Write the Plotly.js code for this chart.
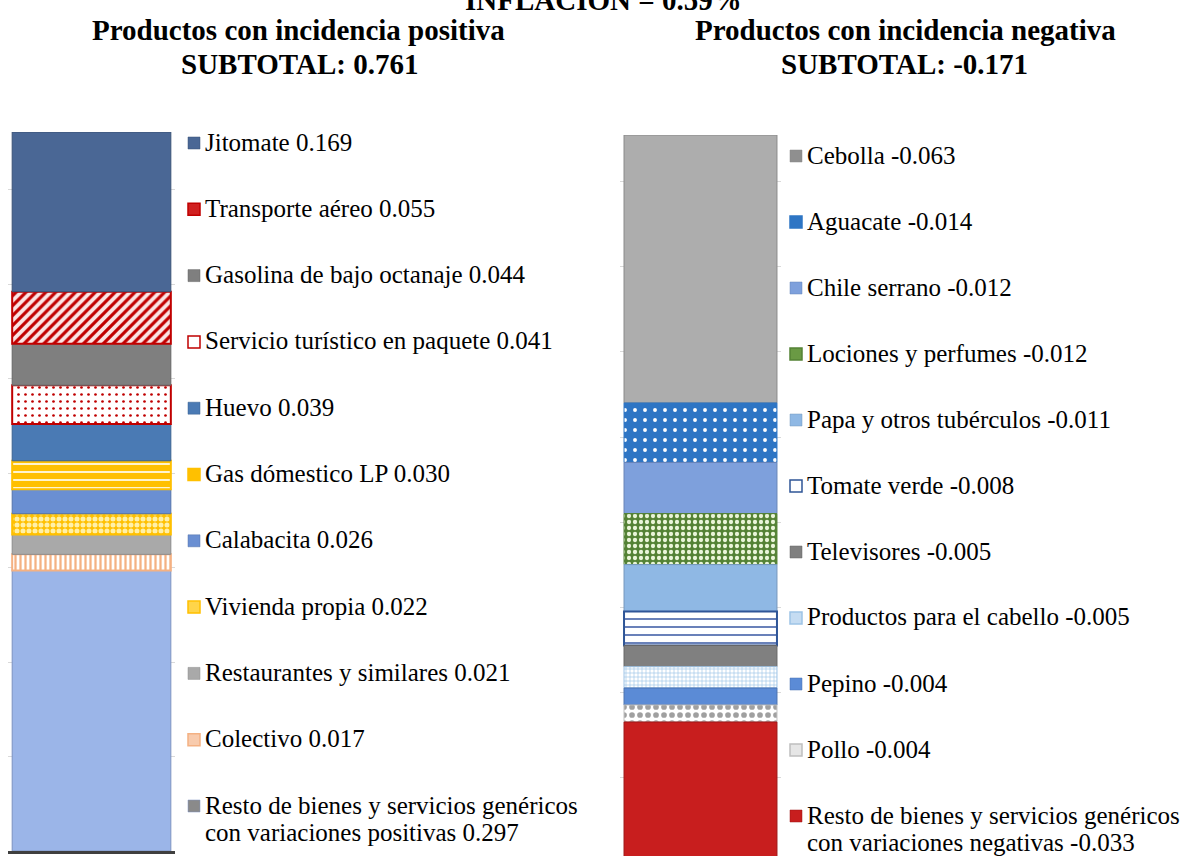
<!DOCTYPE html>
<html>
<head>
<meta charset="utf-8">
<script src="https://cdn.plot.ly/plotly-3.0.1.min.js"></script>
<style>
  html, body { margin: 0; padding: 0; background: #fff; }
  #chart { width: 1184px; height: 856px; }
</style>
</head>
<body>
<div id="chart"></div>
<script>
// incidencia positiva (de arriba hacia abajo en la barra)
const posNames = [
  'Jitomate', 'Transporte aéreo', 'Gasolina de bajo octanaje', 'Servicio turístico en paquete',
  'Huevo', 'Gas dómestico LP', 'Calabacita', 'Vivienda propia', 'Restaurantes y similares',
  'Colectivo', 'Resto de bienes y servicios genéricos<br>con variaciones positivas'
];
const posValues = [0.169, 0.055, 0.044, 0.041, 0.039, 0.030, 0.026, 0.022, 0.021, 0.017, 0.297];

// incidencia negativa (de arriba hacia abajo en la barra)
const negNames = [
  'Cebolla', 'Aguacate', 'Chile serrano', 'Lociones y perfumes', 'Papa y otros tubérculos',
  'Tomate verde', 'Televisores', 'Productos para el cabello', 'Pepino', 'Pollo',
  'Resto de bienes y servicios genéricos<br>con variaciones negativas'
];
const negValues = [-0.063, -0.014, -0.012, -0.012, -0.011, -0.008, -0.005, -0.005, -0.004, -0.004, -0.033];

const inflation = '0.59%';

// fill styles, same order as the names (sw = colour of the small key square)
const posStyles = [
  { color: '#4a6795', line: '#3a5276' },
  { color: '#ffffff', line: '#c00000', lw: 2, sw: '#d02020', pattern: { shape: '/', fgcolor: '#c00000', bgcolor: '#fbe5e5', size: 7, solidity: 0.45 } },
  { color: '#7f7f7f', line: '#666666' },
  { color: '#ffffff', line: '#c00000', lw: 2, sw: '#ffffff', pattern: { shape: '.', fgcolor: '#c00000', bgcolor: '#ffffff', size: 7, solidity: 0.12 } },
  { color: '#4a7ab4', line: '#3b6290' },
  { color: '#ffc000', line: '#ffc000', lw: 2, sw: '#ffc000', pattern: { shape: '-', fgcolor: '#fff4cc', bgcolor: '#ffc000', size: 8, solidity: 0.25 } },
  { color: '#6a8fd2', line: '#5473aa' },
  { color: '#ffc000', line: '#ffc000', lw: 2, sw: '#ffd54a', pattern: { shape: '.', fgcolor: '#fff0a8', bgcolor: '#ffc000', size: 6, solidity: 0.55 } },
  { color: '#a9a9a9', line: '#8c8c8c' },
  { color: '#ffffff', line: '#f4b183', lw: 2, sw: '#f8cbad', pattern: { shape: '|', fgcolor: '#f4b183', bgcolor: '#ffffff', size: 5, solidity: 0.45 } },
  { color: '#9bb5e8', line: '#7c92c0', sw: '#8a8a8a' }
];
const negStyles = [
  { color: '#adadad', line: '#8a8a8a', sw: '#8f8f8f' },
  { color: '#2e75c4', line: '#2e75c4', lw: 1, sw: '#2e75c4', pattern: { shape: '.', fgcolor: '#ffffff', bgcolor: '#2e75c4', size: 10, solidity: 0.12 } },
  { color: '#7ea0dc', line: '#6784b8' },
  { color: '#548235', line: '#548235', lw: 1, sw: '#6a9a44', pattern: { shape: '.', fgcolor: '#eaf5d9', bgcolor: '#548235', size: 6, solidity: 0.4 } },
  { color: '#8fb8e4', line: '#7598bd' },
  { color: '#ffffff', line: '#2f5597', lw: 2, sw: '#ffffff', pattern: { shape: '-', fgcolor: '#5470b0', bgcolor: '#ffffff', size: 8, solidity: 0.22 } },
  { color: '#808080', line: '#666666' },
  { color: '#ffffff', line: '#9dc3e6', lw: 1, sw: '#c5dcf2', pattern: { shape: '+', fgcolor: '#9dc3e6', bgcolor: '#ffffff', size: 4, solidity: 0.3 } },
  { color: '#5b8bd6', line: '#4a72b0' },
  { color: '#ffffff', line: '#bfbfbf', lw: 1, sw: '#e6e6e6', pattern: { shape: '.', fgcolor: '#a0a0a0', bgcolor: '#ffffff', size: 8, solidity: 0.4 } },
  { color: '#c81e1e', line: '#9e1717' }
];

const W = 1184;
const H = 856;
const FONT = 'Liberation Serif, Times New Roman, serif';
const sum = (arr) => arr.reduce((a, b) => a + b, 0);
const posTotal = sum(posValues);
const negTotal = sum(negValues);

function makeTrace (name, value, style, axis) {
  const marker = {
    color: style.color,
    line: { color: style.line, width: style.lw || 1 }
  };
  if (style.pattern) marker.pattern = Object.assign({ fillmode: 'replace' }, style.pattern);
  return {
    type: 'bar',
    x: ['a'],
    y: [value],
    name: name.replace('<br>', ' ') + ' ' + value.toFixed(3),
    width: 0.95,
    marker: marker,
    xaxis: 'x' + axis,
    yaxis: 'y' + axis,
    hoverinfo: 'name',
    showlegend: false
  };
}

const traces = [];
// positive stack grows from 0 upward, so the bottom item goes in first
for (let i = posNames.length - 1; i >= 0; i--) {
  traces.push(makeTrace(posNames[i], posValues[i], posStyles[i], ''));
}
// negative stack grows from 0 downward, first item sits on top
negNames.forEach((n, i) => {
  traces.push(makeTrace(n, negValues[i], negStyles[i], '2'));
});

// gridlines every 0.02 counted from the bottom of the negative bar
const negGrid = [];
for (let v = negTotal + 0.02; v < 0; v += 0.02) negGrid.push(v);

// key next to each bar: evenly spaced labels with a small square
const annotations = [];
const shapes = [];
const keyFont = { family: FONT, size: 25, color: '#000' };
function addKey (names, values, styles, swX, textX, top, step) {
  names.forEach((n, i) => {
    const yc = top + step * i;
    const lines = n.split('<br>');
    lines[lines.length - 1] += ' ' + values[i].toFixed(3);
    lines.forEach((line, k) => {
      annotations.push({
        text: line,
        xref: 'paper', yref: 'paper',
        x: textX / W, y: (H - yc - 27 * k) / H,
        xanchor: 'left', yanchor: 'middle',
        showarrow: false, font: keyFont
      });
    });
    const s = styles[i];
    shapes.push({
      type: 'rect', xref: 'paper', yref: 'paper',
      x0: swX / W, x1: (swX + 12) / W,
      y0: (H - yc + 5) / H, y1: (H - yc - 7) / H,
      fillcolor: s.sw || s.color,
      line: { color: s.line, width: s.pattern ? 1.5 : 0.5 }
    });
  });
}
addKey(posNames, posValues, posStyles, 188, 203, 142, 66.3);
addKey(negNames, negValues, negStyles, 790, 805, 155, 66);

const titleFont = { family: FONT, size: 29, color: '#000' };
[
  ['<b>INFLACIÓN = ' + inflation + '</b>', 603, 0],
  ['<b>Productos con incidencia positiva</b>', 298, 30],
  ['<b>SUBTOTAL: ' + posTotal.toFixed(3) + '</b>', 299, 64],
  ['<b>Productos con incidencia negativa</b>', 905, 30],
  ['<b>SUBTOTAL: ' + negTotal.toFixed(3) + '</b>', 904, 64]
].forEach(([text, x, y]) => {
  annotations.push({
    text: text, xref: 'paper', yref: 'paper', x: x / W, y: (H - y) / H,
    xanchor: 'center', yanchor: 'middle', showarrow: false, font: titleFont
  });
});

const layout = {
  width: W,
  height: H,
  margin: { l: 0, r: 0, t: 0, b: 0 },
  paper_bgcolor: '#ffffff',
  plot_bgcolor: 'rgba(0,0,0,0)',
  barmode: 'relative',
  showlegend: false,
  font: { family: FONT, size: 25, color: '#000' },
  xaxis: {
    domain: [8 / W, 175 / W],
    range: [-0.5, 0.5],
    showticklabels: false,
    ticks: '',
    showgrid: false,
    showline: true,
    linecolor: '#3f3f3f',
    linewidth: 3,
    fixedrange: true
  },
  yaxis: {
    domain: [(H - 851) / H, (H - 132) / H],
    range: [0, posTotal],
    tick0: 0,
    dtick: 0.1,
    showticklabels: false,
    ticks: '',
    gridcolor: '#d9d9d9',
    zeroline: false,
    fixedrange: true
  },
  xaxis2: {
    domain: [620 / W, 781 / W],
    range: [-0.5, 0.5],
    anchor: 'y2',
    showticklabels: false,
    ticks: '',
    showgrid: false,
    fixedrange: true
  },
  yaxis2: {
    domain: [0, (H - 135) / H],
    range: [negTotal + 0.0015, 0],
    anchor: 'x2',
    tickmode: 'array',
    tickvals: negGrid,
    showticklabels: false,
    ticks: '',
    gridcolor: '#d9d9d9',
    zeroline: false,
    fixedrange: true
  },
  annotations: annotations,
  shapes: shapes
};

Plotly.newPlot('chart', traces, layout, { displayModeBar: false, responsive: false });
</script>
</body>
</html>
